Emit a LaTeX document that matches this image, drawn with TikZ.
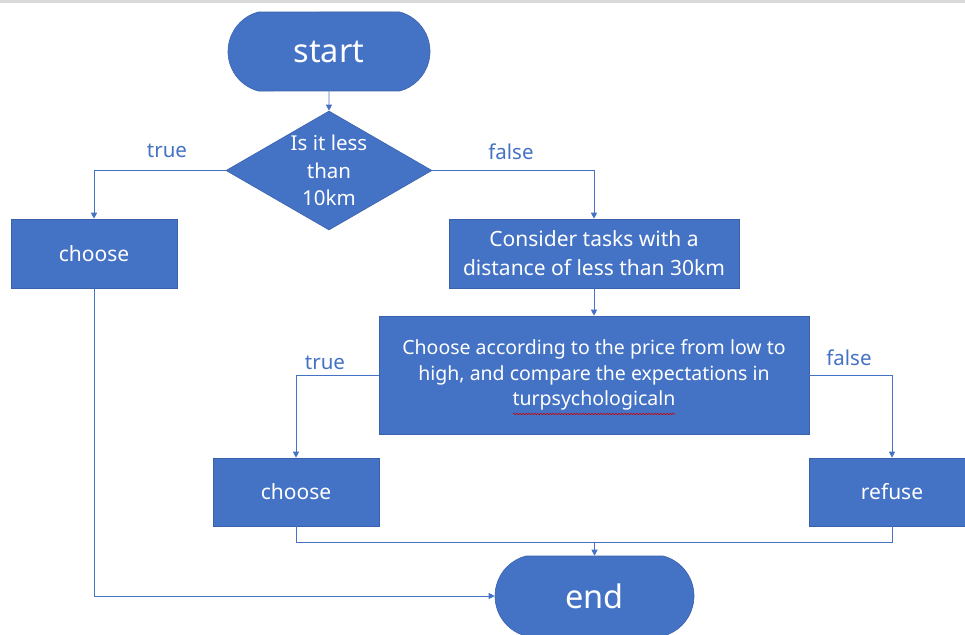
\documentclass[tikz,border=0pt]{standalone}
\usepackage{fontspec}
\setmainfont{Noto Sans}
\usetikzlibrary{shapes.geometric,shapes.misc,arrows.meta,decorations.pathmorphing}
\definecolor{ob}{HTML}{4472C4}
\definecolor{obd}{HTML}{3A62AC}
\begin{document}
\begin{tikzpicture}[x=1pt,y=-1pt,
  box/.style={rectangle, fill=ob, draw=obd, line width=0.6pt, text=white, align=center, inner sep=0pt, font=\fontsize{21}{29}\selectfont},
  term/.style={rounded rectangle, rounded rectangle arc length=150, fill=ob, draw=obd, line width=0.6pt, text=white, inner sep=0pt, font=\fontsize{32.5}{38}\selectfont},
  dec/.style={diamond, fill=ob, draw=obd, line width=0.6pt, inner sep=0pt},
  dectext/.style={text=white, align=center, inner sep=0pt, font=\fontsize{20.5}{27.5}\selectfont},
  link/.style={draw=ob, line width=0.9pt},
  conn/.style={link, -{Triangle[length=6pt,width=6pt]}},
  lbl/.style={text=ob, inner sep=0pt, font=\fontsize{20.5}{24}\selectfont}]
\clip (0,0) rectangle (965,634);
\fill[white] (0,0) rectangle (965,634);
\fill[black!15] (0,0) rectangle (965,3);

\node[term, minimum width=202pt, minimum height=79pt] (start) at (329,51.5) {start};
\node[dec, minimum width=206pt, minimum height=119pt] (q1) at (329,170.5) {};
\node[dectext] (q1t) at (q1.center) {Is it less\\than\\10km};
\node[box, minimum width=166pt, minimum height=69pt] (c1) at (94,253.5) {choose};
\node[box, minimum width=290pt, minimum height=69pt] (cons) at (594,253.5) {Consider tasks with a\\distance of less than 30km};
\node[box, minimum width=430pt, minimum height=118pt, font=\fontsize{19.5}{25.5}\selectfont] (big) at (594,375) {Choose according to the price from low to\\high, and compare the expectations in\\turpsychologicaln};
\node[box, minimum width=166pt, minimum height=68pt] (c2) at (296,492) {choose};
\node[box, minimum width=166pt, minimum height=68pt] (ref) at (892,492) {refuse};
\node[term, minimum width=199pt, minimum height=80pt] (end) at (594.5,596) {end};

\draw[conn] (start) -- (q1);
\draw[conn] (q1.west) -| (c1.north);
\draw[conn] (q1.east) -| (cons.north);
\draw[conn] (cons) -- (big);
\draw[conn] (big.west) -| (c2.north);
\draw[conn] (big.east) -| (ref.north);
\coordinate (j) at (594.5,542);
\draw[link] (c2.south) |- (j);
\draw[link] (ref.south) |- (j);
\draw[conn] (j) -- (end.north);
\draw[conn] (c1.south) |- (end.west);

\node[lbl] (l1) at (167,151) {true};
\node[lbl] (l2) at (511,152) {false};
\node[lbl] (l3) at (325,363) {true};
\node[lbl] (l4) at (849,358) {false};

\coordinate (sq1) at (513,414);
\coordinate (sq2) at (675,414);
\draw[red!80!black, line width=0.6pt, decorate, decoration={snake, amplitude=0.7pt, segment length=3pt}] (sq1) -- (sq2);
\end{tikzpicture}
\end{document}
